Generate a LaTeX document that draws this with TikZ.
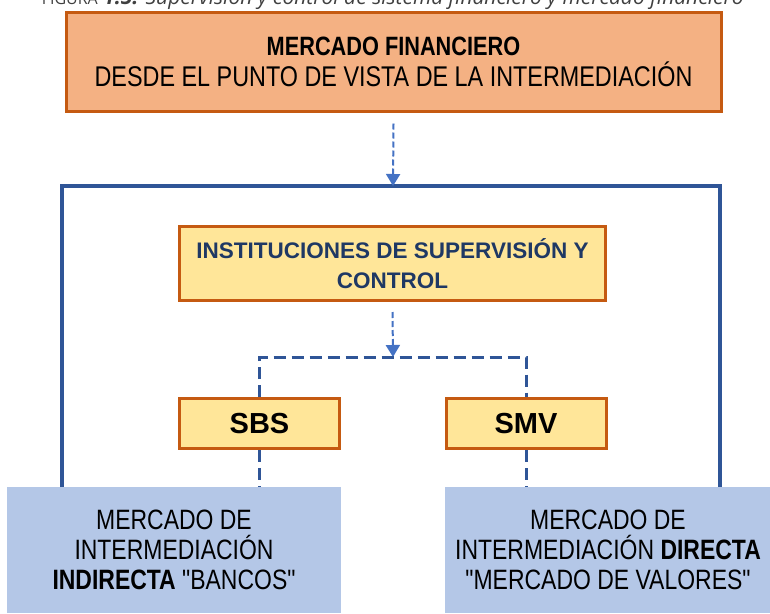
\documentclass[tikz,border=0pt]{standalone}
\usepackage{fontspec}
\setmainfont{Liberation Sans}
\newfontfamily\narrowfont[FakeStretch=0.82]{Liberation Sans}
\newfontfamily\capfont{Open Sans}
\usetikzlibrary{arrows.meta}
\definecolor{orfill}{HTML}{F4B183}
\definecolor{orline}{HTML}{C55A11}
\definecolor{yefill}{HTML}{FFE699}
\definecolor{navytext}{HTML}{1F3864}
\definecolor{frameblue}{HTML}{2F5597}
\definecolor{arrblue}{HTML}{4472C4}
\definecolor{bofill}{HTML}{B4C7E7}
\definecolor{capgray}{HTML}{404040}
\begin{document}
\begin{tikzpicture}[x=1pt,y=-1pt,
  topbox/.style={draw=orline, fill=orfill, line width=3pt, minimum width=655pt, minimum height=99pt, inner sep=0pt, align=center, font=\narrowfont\fontsize{28.5}{31}\selectfont},
  instbox/.style={draw=orline, fill=yefill, line width=3pt, minimum width=426pt, minimum height=74pt, inner sep=0pt, align=center, text=navytext, font=\bfseries\fontsize{22.5}{30}\selectfont},
  smallbox/.style={draw=orline, fill=yefill, line width=3pt, minimum width=160pt, minimum height=50pt, inner sep=0pt, font=\bfseries\fontsize{29}{30}\selectfont},
  mktbox/.style={fill=bofill, inner sep=0pt, minimum height=126pt, align=center, font=\narrowfont\fontsize{28}{30}\selectfont},
  flowarrow/.style={draw=arrblue, line width=2pt, dash pattern=on 6pt off 3pt, -{Triangle[width=14pt,length=12pt,fill=arrblue]}},
  frameline/.style={draw=frameblue, line width=3.5pt},
  bracketline/.style={draw=frameblue, line width=3pt, dash pattern=on 12pt off 6pt}
]
\useasboundingbox (0,0) rectangle (770,613);
\fill[white] (0,0) rectangle (770,613);

\node[anchor=base east, text=capgray, font=\capfont\fontsize{21}{21}\selectfont, inner sep=0pt] (cap) at (744,5)
  {{\fontsize{16}{16}\selectfont FIGURA} \textbf{\textit{1.5:}} \textit{Supervisión y control de sistema financiero y mercado financiero}};

\node[topbox] (top) at (393.5,61.5)
  {{\fontsize{26.5}{31}\selectfont\bfseries MERCADO FINANCIERO}\\DESDE EL PUNTO DE VISTA DE LA INTERMEDIACIÓN};

\node[instbox] (inst) at (392.5,263.5) {INSTITUCIONES DE SUPERVISIÓN Y\\CONTROL};

\node[smallbox] (sbs) at (259.5,423.5) {SBS};
\node[smallbox] (smv) at (526,423.5) {SMV};

\node[mktbox, minimum width=334pt] (left) at (174,550)
  {MERCADO DE\\INTERMEDIACIÓN\\\textbf{INDIRECTA} "BANCOS"};
\node[mktbox, minimum width=326pt] (right) at (608,550)
  {MERCADO DE\\INTERMEDIACIÓN \textbf{DIRECTA}\\"MERCADO DE VALORES"};

% outer frame
\coordinate (fl) at (62,487);
\coordinate (fr) at (720,487);
\coordinate (ftop) at (393,186);
\draw[frameline] (fl) -- (62,186) -- (720,186) -- (fr);

% arrow from top box to frame
\draw[flowarrow] (top.south) ++(0,11) -- (ftop);

% arrow from institutions to bracket
\coordinate (br) at (393,357);
\draw[flowarrow] (inst.south) ++(0,10) -- (br);

% bracket
\draw[bracketline] (sbs.north) -- (sbs.north |- br) -- (smv.north |- br) -- (smv.north);
\draw[bracketline] (sbs.south) -- (sbs.south |- left.north);
\draw[bracketline] (smv.south) -- (smv.south |- right.north);
\end{tikzpicture}
\end{document}
